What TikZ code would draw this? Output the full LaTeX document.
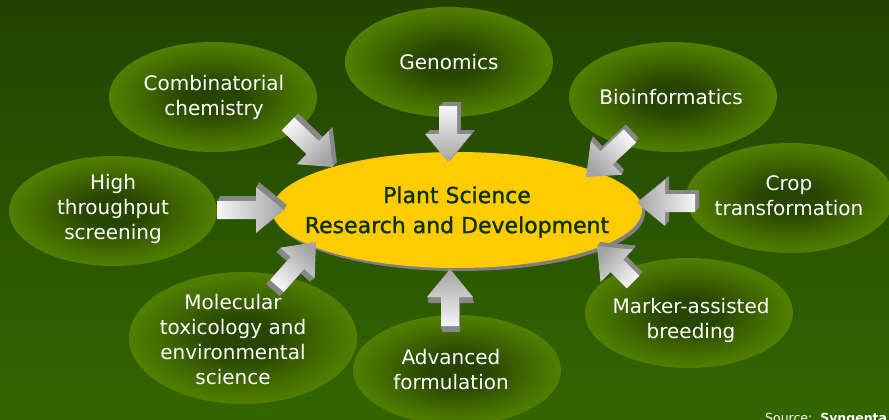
\documentclass[tikz,border=0pt]{standalone}
\usepackage{fontspec}
\setmainfont{DejaVu Sans}
\newfontfamily\corefont[FakeBold=1.2]{DejaVu Sans}
\usetikzlibrary{shapes.geometric,calc}
\definecolor{bgtop}{HTML}{214200}
\definecolor{bgbot}{HTML}{336600}
\definecolor{ellin}{HTML}{264600}
\definecolor{ellout}{HTML}{669900}
\definecolor{core}{HTML}{FFCC00}
\definecolor{coreshadow}{HTML}{808080}
\definecolor{coretext}{HTML}{0C3000}
\definecolor{arrlight}{HTML}{F6F6F6}
\definecolor{arrdark}{HTML}{A4A4A4}
\definecolor{arrside}{HTML}{888888}
\pgfdeclareradialshading{ellshade}{\pgfpoint{0bp}{0bp}}{color(0bp)=(ellin); color(7bp)=(ellin); color(18bp)=(ellin!55!ellout); color(34bp)=(ellout); color(50bp)=(ellout)}
\tikzset{
  bubble/.style={ellipse, minimum width=208pt, minimum height=110pt, inner sep=0pt, shade, shading=ellshade},
  lbl/.style={text=white, font=\fontsize{20}{25}\selectfont, align=center, inner sep=0pt},
  corebox/.style={ellipse, minimum width=370pt, minimum height=116pt, inner sep=0pt},
  coretxt/.style={text=coretext, font=\corefont\fontsize{22}{30}\selectfont, align=center, inner sep=0pt},
  srctxt/.style={text=white, font=\fontsize{12.5}{14}\selectfont, inner sep=0pt, anchor=base west}
}
\newcommand{\arrowpath}[2]{($(#1)!9pt!90:(#2)$) -- ($(#1-b)!9pt!90:(#2)$) -- ($(#1-b)!23pt!90:(#2)$) -- (#2) -- ($(#1-b)!23pt!-90:(#2)$) -- ($(#1-b)!9pt!-90:(#2)$) -- ($(#1)!9pt!-90:(#2)$) -- cycle}
\newcommand{\blockarrow}[5]{%
  \coordinate (#1-b) at ($(#2)!28pt!(#1)$);
  \foreach \k in {0.2,0.4,0.6,0.8,1}{%
    \begin{scope}[transform canvas={shift={(\k*#4,\k*#5)}}]
      \fill[arrside] \arrowpath{#1}{#2};
    \end{scope}}
  \shade[top color=arrdark, bottom color=arrlight, shading angle=#3] \arrowpath{#1}{#2};
}
\begin{document}
\begin{tikzpicture}[x=1pt,y=-1pt]
\useasboundingbox (0,0) rectangle (889,420);
\shade[top color=bgtop, bottom color=bgbot] (0,0) rectangle (889,420);

% outer bubbles
\node[bubble] (comb) at (213,97) {};
\node[bubble] (gen) at (449,62) {};
\node[bubble] (bio) at (673,97) {};
\node[bubble] (hts) at (113,211) {};
\node[bubble] (crop) at (790,198) {};
\node[bubble, minimum width=228pt, minimum height=132pt] (mol) at (243,338) {};
\node[bubble] (adv) at (457,370) {};
\node[bubble] (mab) at (689,313) {};

\node[lbl] (combt) at (214,97) {Combinatorial\\chemistry};
\node[lbl] (gent) at (449,62) {Genomics};
\node[lbl] (biot) at (671,97) {Bioinformatics};
\node[lbl] (htst) at (113,209) {High\\throughput\\screening};
\node[lbl] (cropt) at (789,196) {Crop\\transformation};
\node[lbl] (molt) at (233,340) {Molecular\\toxicology and\\environmental\\science};
\node[lbl] (advt) at (451,370) {Advanced\\formulation};
\node[lbl] (mabt) at (691,320) {Marker-assisted\\breeding};

% central ellipse
\node[corebox, fill=coreshadow] (coresh) at (460,213) {};
\node[corebox, fill=core] (core) at (457,210) {};
\node[coretxt] (coret) at (457,212) {Plant Science\\Research and Development};

% arrows: tail and tip coordinates
\coordinate (a1) at (288,124); \coordinate (a1t) at (333,167);
\coordinate (a2) at (448,106); \coordinate (a2t) at (448,162);
\coordinate (a3) at (630,136); \coordinate (a3t) at (586,177);
\coordinate (a4) at (217,210); \coordinate (a4t) at (284,210);
\coordinate (a5) at (695,203); \coordinate (a5t) at (637,203);
\coordinate (a6) at (277,286); \coordinate (a6t) at (316,242);
\coordinate (a7) at (633,282); \coordinate (a7t) at (597,246);
\coordinate (a8) at (450,326); \coordinate (a8t) at (450,269);

\blockarrow{a1}{a1t}{-135}{4}{-4}
\blockarrow{a2}{a2t}{-180}{4}{-4}
\blockarrow{a3}{a3t}{134}{2}{-5}
\blockarrow{a4}{a4t}{-90}{3}{-5}
\blockarrow{a5}{a5t}{90}{4}{-4}
\blockarrow{a6}{a6t}{-42}{-4}{4}
\blockarrow{a7}{a7t}{48}{3}{-4}
\blockarrow{a8}{a8t}{0}{1}{6}

\node[srctxt] (src) at (765,422) {Source:\ \ \textbf{Syngenta}};
\end{tikzpicture}
\end{document}
